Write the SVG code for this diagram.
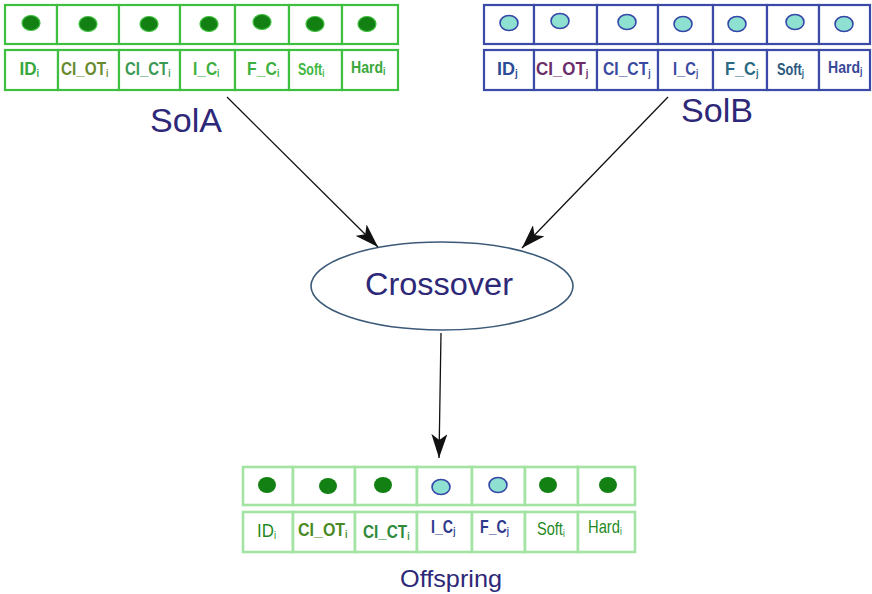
<svg xmlns="http://www.w3.org/2000/svg" width="872" height="594" viewBox="0 0 872 594">
  <style>
    .cellA { fill: #ffffff; stroke: #3fbf3f; stroke-width: 2.2; }
    .cellB { fill: #ffffff; stroke: #3a4aa6; stroke-width: 2.2; }
    .cellC { fill: #ffffff; stroke: #a3e3a3; stroke-width: 2.6; }
    .geneA { fill: #128012; stroke: #3fbf3f; stroke-width: 1.2; }
    .geneA2 { fill: #128012; }
    .geneB { fill: #8ee0d0; stroke: #3446a8; stroke-width: 1.6; }
    .lbl { font-family: "Liberation Sans", Arial, sans-serif; font-size: 18px; font-weight: bold; }
    .lblS { font-family: "Liberation Sans", Arial, sans-serif; font-size: 16px; font-weight: bold; }
    .lblO { font-family: "Liberation Sans", Arial, sans-serif; font-size: 18px; }
    .b { font-weight: bold; }
    .s { font-size: 10px; }
    .title { font-family: "Liberation Sans", Arial, sans-serif; fill: #2e2878; }
    .conn { fill: none; stroke: #111111; stroke-width: 1.3; marker-end: url(#dart); }
  </style>
  <defs>
    <marker id="dart" viewBox="0 0 24 16" refX="24" refY="8" markerWidth="24" markerHeight="16" markerUnits="userSpaceOnUse" orient="auto">
      <path d="M0,0 L24,8 L0,16 L6,8 Z" fill="#111111"/>
    </marker>
  </defs>

  <!-- Parent solution A: genes and gene names -->
  <g id="solA">
    <g>
      <rect class="cellA" x="5" y="5" width="52" height="39"/>
      <rect class="cellA" x="57" y="5" width="62" height="39"/>
      <rect class="cellA" x="119" y="5" width="61" height="39"/>
      <rect class="cellA" x="180" y="5" width="55" height="39"/>
      <rect class="cellA" x="235" y="5" width="54" height="39"/>
      <rect class="cellA" x="289" y="5" width="53" height="39"/>
      <rect class="cellA" x="342" y="5" width="56" height="39"/>
      <ellipse class="geneA" cx="31" cy="23" rx="9" ry="7.5"/>
      <ellipse class="geneA" cx="88" cy="24" rx="9" ry="7.5"/>
      <ellipse class="geneA" cx="149" cy="24" rx="9" ry="7.5"/>
      <ellipse class="geneA" cx="209" cy="24" rx="9" ry="7.5"/>
      <ellipse class="geneA" cx="262" cy="22" rx="9" ry="7.5"/>
      <ellipse class="geneA" cx="315" cy="24" rx="9" ry="7.5"/>
      <ellipse class="geneA" cx="367" cy="24" rx="9" ry="7.5"/>
    </g>
    <g>
      <rect class="cellA" x="5" y="50" width="53" height="40"/>
      <rect class="cellA" x="58" y="50" width="61" height="40"/>
      <rect class="cellA" x="119" y="50" width="61" height="40"/>
      <rect class="cellA" x="180" y="50" width="55" height="40"/>
      <rect class="cellA" x="235" y="50" width="54" height="40"/>
      <rect class="cellA" x="289" y="50" width="53" height="40"/>
      <rect class="cellA" x="342" y="50" width="56" height="40"/>
      <text class="lbl" transform="translate(19.5,75) scale(0.95,1)" fill="#39a83c">ID<tspan class="s" dy="2">i</tspan></text>
      <text class="lbl" transform="translate(61,75) scale(0.85,1)" fill="#6a8a30">CI_OT<tspan class="s" dy="2">i</tspan></text>
      <text class="lbl" transform="translate(125,75) scale(0.83,1)" fill="#3a9a55">CI_CT<tspan class="s" dy="2">i</tspan></text>
      <text class="lbl" transform="translate(193,75) scale(0.86,1)" fill="#3db040">I_C<tspan class="s" dy="2">i</tspan></text>
      <text class="lbl" transform="translate(247,75) scale(0.88,1)" fill="#3db040">F_C<tspan class="s" dy="2">i</tspan></text>
      <text class="lblS" transform="translate(298,75) scale(0.78,1)" fill="#40b840">Soft<tspan class="s" dy="2">i</tspan></text>
      <text class="lblS" transform="translate(351,73) scale(0.88,1)" fill="#3aa83c">Hard<tspan class="s" dy="2">i</tspan></text>
    </g>
    <text class="title" x="150" y="132" font-size="34" textLength="72" lengthAdjust="spacingAndGlyphs">SolA</text>
  </g>

  <!-- Parent solution B: genes and gene names -->
  <g id="solB">
    <g>
      <rect class="cellB" x="484" y="5" width="50" height="39"/>
      <rect class="cellB" x="534" y="5" width="63" height="39"/>
      <rect class="cellB" x="597" y="5" width="61" height="39"/>
      <rect class="cellB" x="658" y="5" width="55" height="39"/>
      <rect class="cellB" x="713" y="5" width="54" height="39"/>
      <rect class="cellB" x="767" y="5" width="52" height="39"/>
      <rect class="cellB" x="819" y="5" width="51" height="39"/>
      <ellipse class="geneB" cx="509" cy="23" rx="9" ry="7.5"/>
      <ellipse class="geneB" cx="560" cy="21" rx="9" ry="7.5"/>
      <ellipse class="geneB" cx="627" cy="22" rx="9" ry="7.5"/>
      <ellipse class="geneB" cx="683" cy="24" rx="9" ry="7.5"/>
      <ellipse class="geneB" cx="737" cy="24" rx="9" ry="7.5"/>
      <ellipse class="geneB" cx="795" cy="22" rx="9" ry="7.5"/>
      <ellipse class="geneB" cx="844" cy="24" rx="9" ry="7.5"/>
    </g>
    <g>
      <rect class="cellB" x="484" y="50" width="50" height="40"/>
      <rect class="cellB" x="534" y="50" width="63" height="40"/>
      <rect class="cellB" x="597" y="50" width="61" height="40"/>
      <rect class="cellB" x="658" y="50" width="55" height="40"/>
      <rect class="cellB" x="713" y="50" width="54" height="40"/>
      <rect class="cellB" x="767" y="50" width="52" height="40"/>
      <rect class="cellB" x="819" y="50" width="51" height="40"/>
      <text class="lbl" transform="translate(497,75) scale(1,1)" fill="#2c4c96">ID<tspan class="s" dy="2">j</tspan></text>
      <text class="lbl" transform="translate(536,75) scale(0.94,1)" fill="#6c2c68">CI_OT<tspan class="s" dy="2">j</tspan></text>
      <text class="lbl" transform="translate(603,75) scale(0.87,1)" fill="#3a4aa0">CI_CT<tspan class="s" dy="2">j</tspan></text>
      <text class="lbl" transform="translate(673,75) scale(0.82,1)" fill="#3a4aa0">I_C<tspan class="s" dy="2">j</tspan></text>
      <text class="lbl" transform="translate(725,75) scale(0.91,1)" fill="#2a6a82">F_C<tspan class="s" dy="2">j</tspan></text>
      <text class="lblS" transform="translate(777,75) scale(0.8,1)" fill="#2c5a80">Soft<tspan class="s" dy="2">j</tspan></text>
      <text class="lblS" transform="translate(828,73) scale(0.88,1)" fill="#3a4a98">Hard<tspan class="s" dy="2">j</tspan></text>
    </g>
    <text class="title" x="681" y="122" font-size="34" textLength="72" lengthAdjust="spacingAndGlyphs">SolB</text>
  </g>

  <!-- Crossover operator -->
  <g id="crossover">
    <ellipse cx="442" cy="286" rx="131" ry="44" fill="#ffffff" stroke="#3c5a78" stroke-width="1.6"/>
    <text class="title" x="365" y="295" font-size="31" textLength="148" lengthAdjust="spacingAndGlyphs">Crossover</text>
  </g>

  <!-- Child solution: genes i from SolA, I_C and F_C taken from SolB -->
  <g id="offspring">
    <g>
      <rect class="cellC" x="243" y="467" width="50" height="38"/>
      <rect class="cellC" x="293" y="467" width="62" height="38"/>
      <rect class="cellC" x="355" y="467" width="62" height="38"/>
      <rect class="cellC" x="417" y="467" width="55" height="38"/>
      <rect class="cellC" x="472" y="467" width="53" height="38"/>
      <rect class="cellC" x="525" y="467" width="53" height="38"/>
      <rect class="cellC" x="578" y="467" width="57" height="38"/>
      <ellipse class="geneA2" cx="267" cy="485" rx="9" ry="8"/>
      <ellipse class="geneA2" cx="328" cy="486" rx="9" ry="8"/>
      <ellipse class="geneA2" cx="383" cy="485" rx="9" ry="8"/>
      <ellipse class="geneB" cx="441" cy="487" rx="9" ry="7.5"/>
      <ellipse class="geneB" cx="498" cy="485" rx="9" ry="7.5"/>
      <ellipse class="geneA2" cx="548" cy="485" rx="9" ry="8"/>
      <ellipse class="geneA2" cx="608" cy="485" rx="9" ry="8"/>
    </g>
    <g>
      <rect class="cellC" x="243" y="512" width="50" height="40"/>
      <rect class="cellC" x="293" y="512" width="62" height="40"/>
      <rect class="cellC" x="355" y="512" width="62" height="40"/>
      <rect class="cellC" x="417" y="512" width="55" height="40"/>
      <rect class="cellC" x="472" y="512" width="53" height="40"/>
      <rect class="cellC" x="525" y="512" width="53" height="40"/>
      <rect class="cellC" x="578" y="512" width="57" height="40"/>
      <text class="lblO" transform="translate(257,537) scale(0.94,1)" fill="#1f8a1f">ID<tspan class="s" dy="2">i</tspan></text>
      <text class="lblO b" transform="translate(298,536) scale(0.89,1)" fill="#4a8a24">CI_OT<tspan class="s" dy="2">i</tspan></text>
      <text class="lblO b" transform="translate(363,538) scale(0.85,1)" fill="#2e8a3a">CI_CT<tspan class="s" dy="2">i</tspan></text>
      <text class="lblO b" transform="translate(431,533) scale(0.79,1)" fill="#2e3a8c">I_C<tspan class="s" dy="2">j</tspan></text>
      <text class="lblO b" transform="translate(480,533) scale(0.79,1)" fill="#2e3a8c">F_C<tspan class="s" dy="2">j</tspan></text>
      <text class="lblO" transform="translate(537,535) scale(0.81,1)" fill="#1f8a1f">Soft<tspan class="s" dy="2">i</tspan></text>
      <text class="lblO" transform="translate(588,533) scale(0.82,1)" fill="#1f8a1f">Hard<tspan class="s" dy="2">i</tspan></text>
    </g>
    <text class="title" x="400" y="587" font-size="24" textLength="102" lengthAdjust="spacingAndGlyphs">Offspring</text>
  </g>

  <!-- Connectors -->
  <g id="connectors">
    <path class="conn" d="M227,97 L378,247"/>
    <path class="conn" d="M668,97 L522,248"/>
    <path class="conn" d="M441,333 L439,458"/>
  </g>
</svg>
